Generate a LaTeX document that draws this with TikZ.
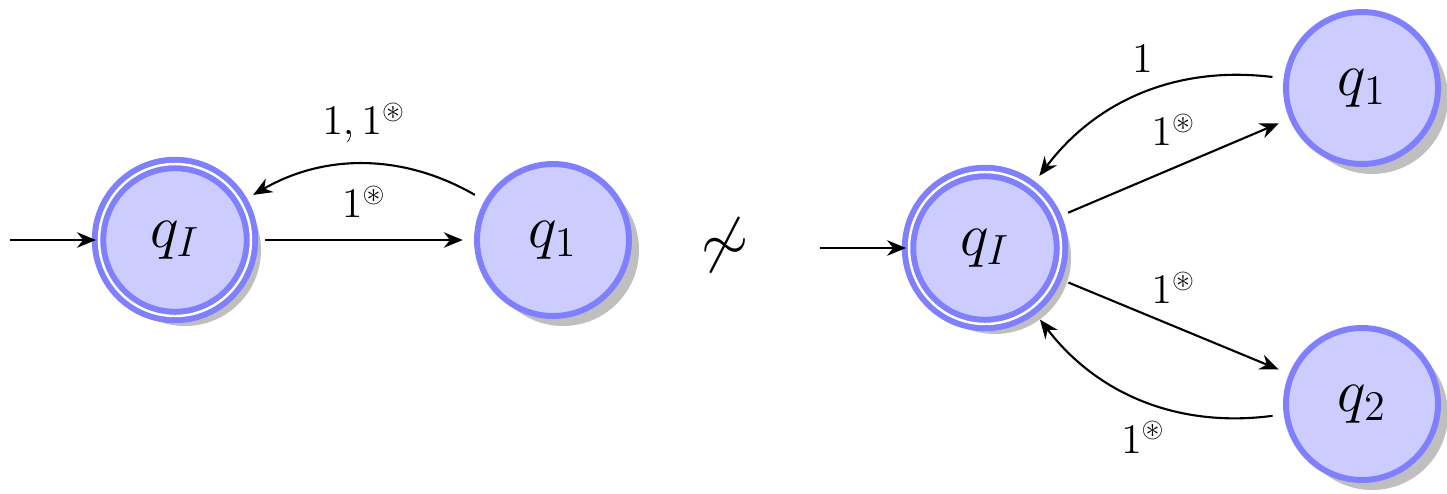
\documentclass[tikz,border=0pt]{standalone}
\usepackage{amsmath,amssymb}
\usepackage{xcolor}
\usepackage{tikz}
\usetikzlibrary{positioning,arrows.meta,shadows}
\definecolor{StateFill}{HTML}{CCCCFF}
\definecolor{StateRim}{HTML}{8080FF}
\definecolor{Shade}{HTML}{BFBFBF}
\newcommand{\Ast}{\circledast}

\begin{document}
\begin{tikzpicture}[
  x=1cm, y=1cm,
  qstate/.style={circle,draw=StateRim,fill=StateFill,line width=1.7pt,
                 minimum size=1.52cm,inner sep=0pt,font=\LARGE,
                 drop shadow={shadow xshift=.1cm,shadow yshift=-.1cm,
                              fill=Shade,opacity=1}},
  qacc/.style={qstate,double=white,double distance=0.7pt},
  init/.style={-{Stealth[length=5.4pt,width=4.4pt]},semithick},
  arr/.style={init,shorten >=3.2pt,shorten <=3.2pt},
  lbl/.style={font=\large,inner sep=6pt}]

\useasboundingbox (0,0) rectangle (14.47,4.93);

\node[qacc]   (iL) at (1.75,2.53)  {$q_I$};
\node[qstate] (aL) at (5.53,2.53)  {$q_1$};
\node[font=\LARGE] (ns) at (7.25,2.48) {$\not\sim$};
\node[qacc]   (iR) at (9.85,2.45)  {$q_I$};
\node[qstate] (aR) at (13.62,4.05) {$q_1$};
\node[qstate] (bR) at (13.62,0.89) {$q_2$};

\coordinate (sL) at (0.10,2.53);
\coordinate (sR) at (8.20,2.45);

\draw[init] (sL) -- (iL);
\draw[arr] (iL) -- node[lbl,above] {$1^{\Ast}$} (aL);
\draw[arr] (aL) to[bend right=30] node[lbl,above] {$1,1^{\Ast}$} (iL);

\draw[init] (sR) -- (iR);
\draw[arr] (iR) -- node[lbl,above] {$1^{\Ast}$} (aR);
\draw[arr] (aR) to[bend right=30] node[lbl,above] {$1$} (iR);
\draw[arr] (iR) -- node[lbl,above] {$1^{\Ast}$} (bR);
\draw[arr] (bR) to[bend left=30] node[lbl,below] {$1^{\Ast}$} (iR);
\end{tikzpicture}
\end{document}
